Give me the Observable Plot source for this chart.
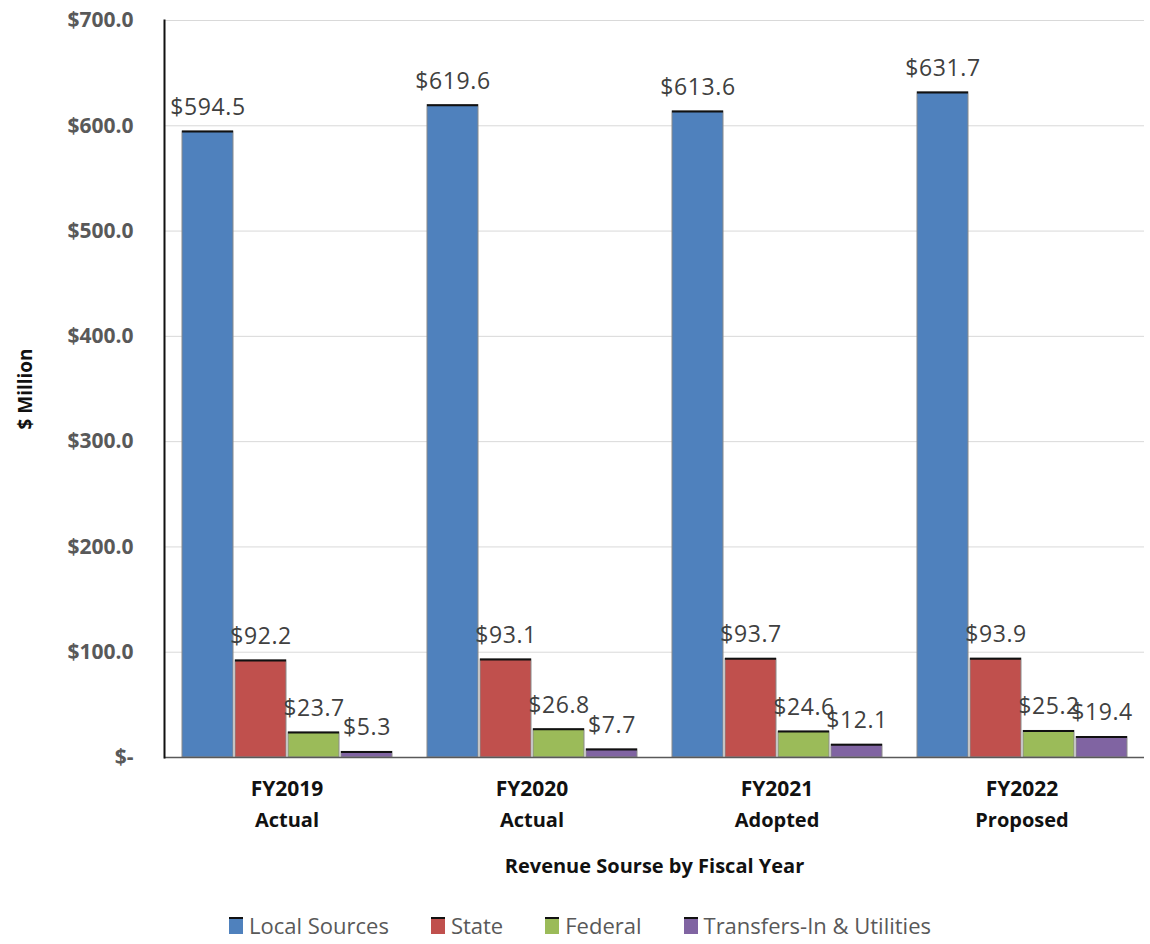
<!DOCTYPE html>
<html>
<head>
<meta charset="utf-8">
<script src="https://cdn.jsdelivr.net/npm/d3@7"></script>
<script src="https://cdn.jsdelivr.net/npm/@observablehq/plot@0.6"></script>
<style>
  html, body { margin: 0; padding: 0; background: #fff; }
  #chart { width: 1150px; }
  .legend { display: flex; justify-content: center; gap: 42px; font-family: "Open Sans", sans-serif; font-size: 22px; line-height: 26px; color: #595959; padding-top: 16px; padding-left: 10px; }
  .legend .item { display: flex; align-items: center; gap: 6px; }
  .legend .sw { width: 14px; height: 17px; border-top: 2px solid #111; box-sizing: border-box; }
  .vlabel text { letter-spacing: 0.6px; }
</style>
</head>
<body>
<div id="chart"></div>
<script>
const years = ["FY2019", "FY2020", "FY2021", "FY2022"];
const yearStatus = ["Actual", "Actual", "Adopted", "Proposed"];
const series = ["Local Sources", "State", "Federal", "Transfers-In & Utilities"];
const colors = ["#4F81BD", "#C0504D", "#9BBB59", "#8064A2"];
const localSources = [594.5, 619.6, 613.6, 631.7];
const state = [92.2, 93.1, 93.7, 93.9];
const federal = [23.7, 26.8, 24.6, 25.2];
const transfers = [5.3, 7.7, 12.1, 19.4];
const yTicks = [0, 100, 200, 300, 400, 500, 600, 700];

const valuesBySeries = [localSources, state, federal, transfers];
const data = [];
years.forEach((yr, i) => {
  series.forEach((s, j) => data.push({year: yr, series: s, value: valuesBySeries[j][i]}));
});
const yearLabels = years.map((yr, i) => ({year: yr, status: yearStatus[i]}));

const font = "'Open Sans', sans-serif";

const chart = Plot.plot({
  width: 1150,
  height: 896,
  marginLeft: 163,
  marginRight: 5,
  marginTop: 20,
  marginBottom: 139,
  style: {fontFamily: font, background: "white"},
  fx: {domain: years, padding: 0, label: null, axis: null},
  x: {domain: series, paddingInner: 0.04, paddingOuter: 0.29, axis: null},
  y: {domain: [0, 700]},
  color: {domain: series, range: colors},
  marks: [
    Plot.gridY(yTicks.filter(d => d > 0), {stroke: "#d9d9d9", strokeOpacity: 1, strokeWidth: 1}),
    Plot.axisY({
      ticks: yTicks,
      tickFormat: d => d === 0 ? "$-" : "$" + d.toFixed(1),
      tickSize: 0,
      tickPadding: 31,
      fontSize: 21,
      fontWeight: "bold",
      fill: "#595959",
      label: null
    }),
    Plot.axisY({
      ticks: [],
      label: "$ Million",
      labelArrow: "none",
      labelAnchor: "center",
      labelOffset: 146,
      fontSize: 19,
      fontWeight: "bold",
      fill: "#111"
    }),
    Plot.axisFx({
      anchor: "bottom",
      tickSize: 0,
      tickFormat: () => "",
      label: "Revenue Sourse by Fiscal Year",
      labelAnchor: "center",
      labelOffset: 115,
      fontSize: 20,
      fontWeight: "bold",
      fill: "#111"
    }),
    Plot.barY(data, {fx: "year", x: "series", y: "value", fill: "series", stroke: "#8a8a8a", strokeWidth: 1}),
    Plot.tickY(data, {fx: "year", x: "series", y: "value", stroke: "#111", strokeWidth: 2}),
    Plot.ruleY([0], {stroke: "#595959", strokeWidth: 1.5}),
    Plot.frame({anchor: "left", facetAnchor: "left", stroke: "#111", strokeWidth: 2}),
    Plot.text(data, {
      fx: "year", x: "series", y: "value",
      text: d => "$" + d.value.toFixed(1),
      dy: -24, fontSize: 23, fill: "#404040", className: "vlabel"
    }),
    Plot.text(yearLabels, {fx: "year", text: "year", frameAnchor: "bottom", dy: 38, fontSize: 21, fontWeight: "bold", fill: "#111"}),
    Plot.text(yearLabels, {fx: "year", text: "status", frameAnchor: "bottom", dy: 69, fontSize: 20, fontWeight: "bold", fill: "#111"})
  ]
});
document.getElementById("chart").appendChild(chart);

const legend = d3.select("#chart").append("div").attr("class", "legend");
series.forEach((s, i) => {
  const item = legend.append("div").attr("class", "item");
  item.append("span").attr("class", "sw").style("background", colors[i]);
  item.append("span").text(s);
});
</script>
</body>
</html>
